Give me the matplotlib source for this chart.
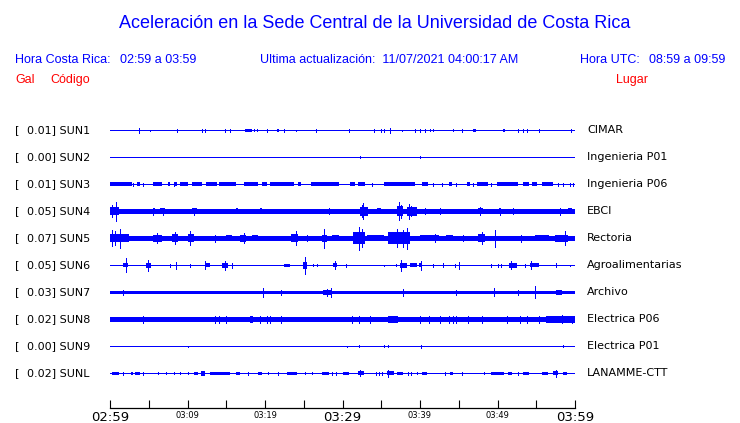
"""Acceleration traces, Sede Central UCR (hourly record)."""

import matplotlib

matplotlib.use("Agg")
import matplotlib.pyplot as plt

BLUE = "#0000ff"
RED = "#ff0000"

CODES = ["SUN1", "SUN2", "SUN3", "SUN4", "SUN5", "SUN6", "SUN7", "SUN8", "SUN9", "SUNL"]
GALS = ["0.01", "0.00", "0.01", "0.05", "0.07", "0.05", "0.03", "0.02", "0.00", "0.02"]
PLACES = ["CIMAR", "Ingenieria P01", "Ingenieria P06", "EBCI", "Rectoria",
          "Agroalimentarias", "Archivo", "Electrica P06", "Electrica P01", "LANAMME-CTT"]

# background noise half-width of each trace (px)
NOISE = [0, 0, 0, 2.3, 2.6, 0, 1.8, 2.8, 0, 0]

# bursts: (start min, end min, half amplitude px); spikes: (min, half amplitude px)
SUN1_BURSTS = [(17.4, 18.3, 1.5), (21.5, 21.8, 1.5), (46.9, 47.2, 1.5), (50.7, 51.0, 1.5)]
SUN1_SPIKES = [(3.7, 2.7), (5.1, 0.7), (8.7, 1.5), (11.9, 1.3), (12.2, 1.3), (14.8, 1.3),
               (15.5, 1.3), (18.6, 0.8), (19.0, 0.8), (20.3, 1.3), (22.5, 1.3), (24.0, 0.7),
               (26.6, 1.3), (30.8, 1.5), (34.0, 1.3), (35.0, 1.3), (35.4, 1.3), (36.1, 2.7),
               (37.7, 0.7), (39.4, 1.3), (40.0, 1.3), (40.6, 1.3), (41.3, 1.0), (41.7, 1.0),
               (44.2, 0.8), (45.4, 1.3), (52.6, 1.3), (53.3, 1.3), (53.8, 1.3), (55.3, 1.3),
               (59.5, 1.5)]

SUN2_BURSTS = []
SUN2_SPIKES = [(32.2, 0.8), (40.0, 0.8)]

SUN3_BURSTS = [(0.0, 2.8, 2.0), (3.5, 3.9, 2.0), (5.5, 6.7, 2.0), (7.5, 7.8, 2.0), (8.3, 8.6, 2.0),
               (9.0, 10.0, 2.0), (10.6, 11.9, 2.0), (12.4, 13.8, 2.0), (14.0, 16.3, 2.0),
               (17.3, 19.1, 2.0), (19.6, 20.3, 2.0), (20.7, 23.7, 2.0), (24.2, 24.7, 2.0),
               (25.9, 29.5, 2.0), (31.0, 31.6, 2.0), (32.0, 32.9, 2.0), (35.4, 39.4, 2.0),
               (40.2, 41.0, 2.0), (43.7, 44.1, 2.0), (46.0, 46.5, 2.0), (47.4, 48.8, 2.0),
               (49.9, 52.7, 2.0), (53.3, 54.0, 2.0), (54.5, 55.1, 2.0), (55.7, 57.2, 2.0)]
SUN3_SPIKES = [(3.0, 1.5), (4.3, 1.3), (8.2, 1.5), (33.8, 1.3), (41.7, 1.3), (42.9, 1.3),
               (44.7, 1.3), (46.9, 1.3), (49.2, 1.3), (57.8, 1.3), (58.5, 1.5), (59.4, 1.5),
               (59.8, 1.5)]

SUN4_BURSTS = [(0.0, 1.1, 4.0), (5.5, 5.8, 2.8), (6.5, 7.1, 2.8), (10.6, 11.2, 2.8),
               (16.2, 16.5, 2.8), (19.3, 19.6, 2.8), (32.3, 33.3, 4.5), (34.4, 35.0, 3.2),
               (37.0, 37.8, 5.0), (38.3, 39.6, 4.5), (47.5, 48.1, 3.2), (50.2, 50.5, 3.0),
               (59.1, 59.6, 2.8)]
SUN4_SPIKES = [(0.8, 9.5), (0.3, 6.0), (5.6, 3.5), (6.9, 3.5), (10.9, 3.5), (28.2, 3.0),
               (32.7, 8.0), (32.5, 6.0), (37.3, 9.0), (37.5, 6.5), (38.6, 7.5), (38.9, 5.0),
               (40.6, 3.0), (42.6, 3.0), (47.8, 4.0), (50.3, 3.2), (52.0, 3.0), (58.1, 3.5)]

SUN5_BURSTS = [(0.0, 2.4, 4.0), (5.6, 6.7, 3.5), (8.0, 8.8, 4.0), (10.1, 10.8, 4.0),
               (15.0, 15.7, 3.2), (16.8, 17.6, 3.5), (18.3, 19.1, 3.2), (23.4, 24.3, 4.0),
               (27.3, 28.0, 3.5), (28.6, 29.5, 3.0), (31.4, 32.9, 6.0), (33.1, 35.3, 3.2),
               (35.9, 38.7, 6.0), (40.0, 42.4, 3.2), (43.4, 44.3, 3.0), (47.5, 48.4, 4.0),
               (54.8, 56.6, 3.2), (57.4, 59.1, 3.5)]
SUN5_SPIKES = [(0.3, 8.0), (0.7, 7.0), (1.3, 9.5), (6.0, 5.0), (8.4, 6.0), (10.3, 7.0),
               (13.5, 3.2), (17.3, 5.0), (24.0, 7.0), (25.4, 3.0), (27.6, 9.5), (32.1, 11.5),
               (32.5, 9.0), (37.0, 9.0), (37.8, 8.5), (38.3, 10.5), (41.9, 4.0), (45.6, 3.0),
               (48.0, 6.0), (49.7, 8.5), (53.0, 3.2), (58.7, 7.0)]

SUN6_BURSTS = [(1.7, 2.3, 2.0), (4.6, 5.3, 2.7), (12.2, 12.9, 2.0), (14.5, 15.2, 2.7),
               (22.5, 23.2, 1.7), (24.9, 25.4, 3.3), (28.8, 29.3, 2.0), (37.4, 38.3, 2.7),
               (38.7, 39.6, 2.0), (39.9, 40.3, 2.0), (51.5, 52.5, 2.7), (54.2, 55.3, 2.0)]
SUN6_SPIKES = [(2.0, 7.0), (4.9, 5.5), (7.7, 1.3), (8.5, 3.3), (10.3, 1.7), (12.3, 4.0),
               (14.8, 4.7), (15.8, 2.7), (25.1, 8.5), (26.2, 1.0), (26.7, 1.0), (29.0, 4.0),
               (30.5, 1.3), (35.4, 0.7), (36.9, 1.0), (37.6, 5.3), (40.1, 4.7), (41.7, 1.3),
               (43.0, 2.0), (44.5, 1.3), (45.0, 3.3), (49.2, 1.3), (50.1, 1.3), (50.5, 1.3),
               (51.7, 4.0), (53.5, 1.7), (54.3, 4.0), (57.5, 2.0), (59.4, 0.7)]

SUN7_BURSTS = [(27.5, 28.6, 2.7), (57.6, 58.3, 2.7)]
SUN7_SPIKES = [(1.7, 2.7), (19.7, 4.7), (22.1, 2.7), (28.0, 3.3), (28.5, 4.7), (37.8, 3.3),
               (44.7, 2.5), (49.6, 4.0), (52.6, 2.5), (54.8, 6.0)]

SUN8_BURSTS = [(18.1, 18.4, 3.3), (35.9, 37.2, 3.3), (56.3, 60.0, 3.3)]
SUN8_SPIKES = [(4.2, 3.2), (13.5, 3.3), (14.0, 3.3), (15.0, 3.3), (19.3, 3.2), (20.3, 3.2),
               (20.7, 3.2), (22.0, 3.2), (31.2, 3.2), (32.1, 3.2), (33.5, 3.2), (40.0, 3.3),
               (41.1, 3.3), (42.6, 3.3), (43.7, 3.3), (44.3, 3.3), (44.7, 3.2), (46.2, 3.2),
               (48.0, 3.2), (51.2, 3.2), (52.9, 3.2), (53.8, 3.2), (55.3, 3.2), (58.3, 4.0),
               (59.6, 3.8)]

SUN9_BURSTS = []
SUN9_SPIKES = [(10.0, 0.7), (30.6, 0.7), (32.1, 1.0), (35.4, 1.0), (35.9, 1.0), (40.1, 1.3),
               (58.5, 1.0)]

SUNL_BURSTS = [(0.2, 1.1, 1.8), (2.7, 3.0, 1.8), (3.2, 3.9, 1.8), (10.8, 11.3, 1.5),
               (11.7, 12.2, 2.5), (12.9, 15.5, 1.8), (16.3, 16.8, 1.8), (19.1, 19.6, 1.5),
               (22.9, 24.1, 1.8), (27.3, 28.2, 1.5), (30.0, 30.8, 1.5), (32.0, 32.8, 2.0),
               (35.7, 36.6, 2.0), (37.0, 37.8, 1.5), (40.3, 40.9, 1.5), (43.9, 44.3, 1.5),
               (49.2, 50.9, 1.8), (51.3, 51.9, 1.5), (53.3, 54.0, 1.5), (55.7, 56.5, 1.5),
               (57.2, 57.8, 2.0), (58.5, 59.0, 1.5)]
SUNL_SPIKES = [(1.7, 1.3), (4.3, 1.3), (6.2, 1.0), (7.2, 1.0), (8.2, 1.0), (9.0, 1.0),
               (10.0, 1.0), (17.8, 1.3), (20.4, 1.0), (21.7, 1.3), (25.2, 1.0), (26.0, 1.0),
               (28.6, 1.3), (29.2, 1.3), (32.2, 3.0), (34.3, 1.3), (34.7, 1.3), (35.1, 1.3),
               (35.9, 3.3), (38.5, 1.3), (38.8, 1.3), (39.6, 1.0), (43.2, 1.5), (45.4, 1.5),
               (48.2, 1.0), (52.6, 1.5), (57.5, 3.3)]

BURSTS = [SUN1_BURSTS, SUN2_BURSTS, SUN3_BURSTS, SUN4_BURSTS, SUN5_BURSTS,
          SUN6_BURSTS, SUN7_BURSTS, SUN8_BURSTS, SUN9_BURSTS, SUNL_BURSTS]
SPIKES = [SUN1_SPIKES, SUN2_SPIKES, SUN3_SPIKES, SUN4_SPIKES, SUN5_SPIKES,
          SUN6_SPIKES, SUN7_SPIKES, SUN8_SPIKES, SUN9_SPIKES, SUNL_SPIKES]

TICK_MIN = list(range(0, 61, 5))
TICK_LABELS = ["02:59", "", "03:09", "", "03:19", "", "03:29", "", "03:39", "", "03:49", "", "03:59"]
BIG_LABELS = ["02:59", "03:29", "03:59"]

W, H = 740, 423
ROW0, ROW_STEP = 130.3, 27.0   # pixel position of first trace and spacing
PX = 1.0 / ROW_STEP            # one pixel in row units
MIN_PX = 60.0 / 465            # one pixel in minutes

fig = plt.figure(figsize=(W / 100, H / 100), dpi=100, facecolor="white")

# axes: traces from x=110 to 575 px, time axis line at y=408 px
top_px, bot_px = 115.0, 408.0
ax = fig.add_axes([110 / W, 1 - bot_px / H, 465 / W, (bot_px - top_px) / H])
ax.set_xlim(0, 60)
ax.set_ylim((bot_px - ROW0) / ROW_STEP, (top_px - ROW0) / ROW_STEP)

for i in range(len(CODES)):
    ax.plot([0, 60], [i, i], color=BLUE, lw=0.72, antialiased=False, solid_capstyle="butt")
    if NOISE[i]:
        ax.fill_between([0, 60], i - NOISE[i] * PX, i + NOISE[i] * PX, color=BLUE, lw=0, antialiased=False)
    for t0, t1, amp in BURSTS[i]:
        ax.bar(t0, 2 * amp * PX, width=max(t1 - t0, MIN_PX), bottom=i - amp * PX,
               align="edge", color=BLUE, lw=0, antialiased=False)
    for t, amp in SPIKES[i]:
        ax.vlines(t, i - amp * PX, i + amp * PX, color=BLUE, lw=0.72, antialiased=False)

for side in ["top", "left", "right"]:
    ax.spines[side].set_visible(False)
ax.spines["bottom"].set_linewidth(0.9)
ax.set_yticks([])
ax.set_xticks(TICK_MIN)
ax.set_xticklabels(TICK_LABELS)
ax.tick_params(axis="x", direction="in", length=6, width=0.8, pad=2, color="black")
for lab in ax.get_xticklabels():
    lab.set_fontsize(9.5 if lab.get_text() in BIG_LABELS else 6)

# station labels
for i, code in enumerate(CODES):
    y = 1 - (ROW0 + i * ROW_STEP) / H
    fig.text(15 / W, y, "[", fontsize=8, va="center", ha="left")
    fig.text(27 / W, y, f"{GALS[i]}] {code}", fontsize=8, va="center", ha="left")
    fig.text(587 / W, y, PLACES[i], fontsize=8, va="center", ha="left")

# header
hdr = "Liberation Sans"
fig.text(375 / W, 1 - 23 / H, "Aceleración en la Sede Central de la Universidad de Costa Rica",
         family=hdr, fontsize=13, color=BLUE, ha="center", va="center")
fig.text(15 / W, 1 - 60 / H, "Hora Costa Rica:", family=hdr, fontsize=9, color=BLUE, va="center")
fig.text(120 / W, 1 - 60 / H, "02:59 a 03:59", family=hdr, fontsize=9, color=BLUE, va="center")
fig.text(260 / W, 1 - 60 / H, "Ultima actualización:  11/07/2021 04:00:17 AM",
         family=hdr, fontsize=9, color=BLUE, va="center")
fig.text(580 / W, 1 - 60 / H, "Hora UTC:", family=hdr, fontsize=9, color=BLUE, va="center")
fig.text(725 / W, 1 - 60 / H, "08:59 a 09:59", family=hdr, fontsize=9, color=BLUE, va="center", ha="right")
fig.text(15 / W, 1 - 80 / H, "Gal", family=hdr, fontsize=9, color=RED, va="center")
fig.text(50 / W, 1 - 80 / H, "Código", family=hdr, fontsize=9, color=RED, va="center")
fig.text(648 / W, 1 - 80 / H, "Lugar", family=hdr, fontsize=9, color=RED, va="center", ha="right")

fig.savefig("out.png", dpi=100, facecolor="white")
